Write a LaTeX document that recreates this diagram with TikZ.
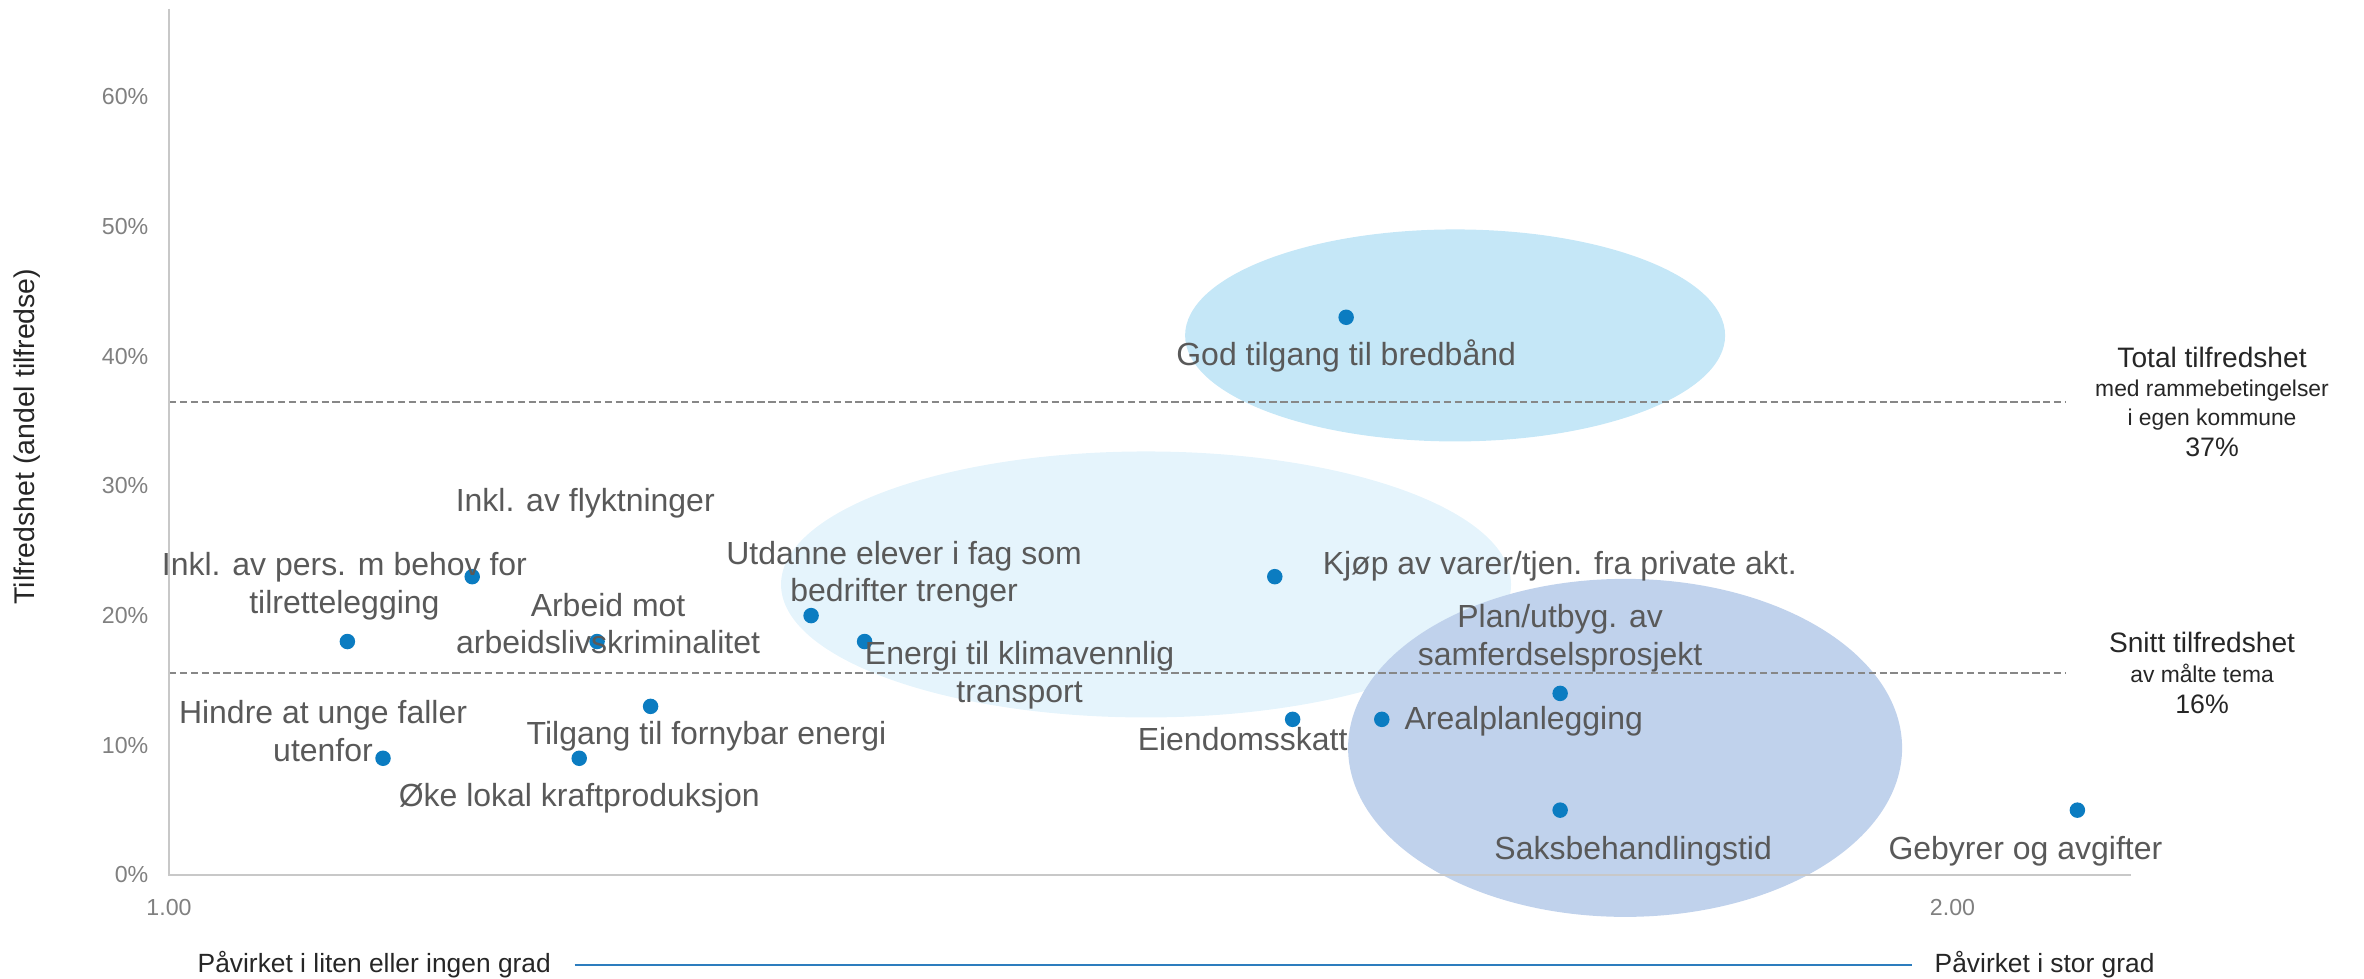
\documentclass[tikz,border=0pt]{standalone}
\usepackage{fontspec}
\setmainfont{Liberation Sans}
\usetikzlibrary{positioning}
\definecolor{dotblue}{RGB}{11,124,193}
\definecolor{cltop}{RGB}{197,231,247}
\definecolor{clmid}{RGB}{229,244,252}
\definecolor{clbot}{RGB}{192,210,236}
\definecolor{itemgray}{RGB}{89,89,89}
\definecolor{tickgray}{RGB}{128,128,128}
\definecolor{axisgray}{RGB}{200,200,200}
\definecolor{refgray}{RGB}{135,135,135}
\definecolor{darktext}{RGB}{38,38,38}
\definecolor{scaleblue}{RGB}{45,125,190}
\tikzset{
    point/.style={
    circle,fill=dotblue,inner sep=0pt,minimum size=1.55mm
    },
    item/.style={
    font=\fontsize{9.1}{10.7}\selectfont,text=itemgray,align=center,inner sep=0pt
    },
    ticklbl/.style={
    font=\fontsize{6.6}{7.8}\selectfont,text=tickgray,inner sep=0pt
    },
    axline/.style={
    draw=axisgray,line width=0.57pt
    },
    refline/.style={
    draw=refgray,line width=0.55pt,dash pattern=on 2.1pt off 1pt
    },
    axtitle/.style={
    font=\fontsize{7.5}{9}\selectfont,text=darktext,inner sep=0pt
    },
    sumhead/.style={
    font=\fontsize{8}{9.5}\selectfont,text=darktext,inner sep=0pt
    },
    sumsub/.style={
    font=\fontsize{6.5}{8}\selectfont,text=darktext,inner sep=0pt
    },
    sumval/.style={
    font=\fontsize{7.6}{9}\selectfont,text=darktext,inner sep=0pt
    },
}

\begin{document}
\begin{tikzpicture}[x=17.835cm, y=0.1297cm, node distance=1cm, on grid]
   \useasboundingbox (1,0) ++(-1.69cm,-1.04cm) rectangle ++(23.64cm,9.79cm);

   \fill[cltop] (1.7211,41.6) ellipse [x radius=2.70cm, y radius=1.06cm];
   \fill[clmid] (1.5478,22.4) ellipse [x radius=3.65cm, y radius=1.33cm];
   \fill[clbot] (1.8164,9.8) ellipse [x radius=2.77cm, y radius=1.69cm];

   \coordinate (O)    at (1,0);
   \coordinate (ytop) at (1,66.8);
   \coordinate (xend) at (2.10,0);
   \coordinate (totL) at (1,36.5);
   \coordinate (totR) at (2.0631,36.5);
   \coordinate (snL)  at (1,15.6);
   \coordinate (snR)  at (2.0631,15.6);

   \draw[refline] (totL) -- (totR);
   \draw[refline] (snL) -- (snR);
   \draw[axline] (ytop) -- (O) -- (xend);

   \foreach \p in {0,10,...,60}
     \node[ticklbl,anchor=east] (y\p) at ([xshift=-0.2cm]1,\p) {\p\%};
   \node[ticklbl] (x1) at ([yshift=-0.33cm]1,0) {1.00};
   \node[ticklbl] (x2) at ([yshift=-0.33cm]2,0) {2.00};

   \node[axtitle,font=\fontsize{8.1}{9.5}\selectfont,rotate=90] (ytit) at ([xshift=-1.42cm]1,33.8) {Tilfredshet (andel tilfredse)};
   \node[axtitle,anchor=west] (liten) at ([shift={(0.28cm,-0.90cm)}]O) {Påvirket i liten eller ingen grad};
   \node[axtitle,anchor=west] (stor)  at ([shift={(17.65cm,-0.90cm)}]O) {Påvirket i stor grad};
   \draw[scaleblue,line width=0.4pt,shorten <=0.23cm,shorten >=0.22cm] (liten) -- (stor);

   \node[sumhead] (tot)  at (2.1455,39.9) {Total tilfredshet};
   \node[sumsub]  (tot2) [below=0.33cm of tot]  {med rammebetingelser};
   \node[sumsub]  (tot3) [below=0.29cm of tot2] {i egen kommune};
   \node[sumval]  (tot4) [below=0.28cm of tot3] {37\%};
   \node[sumhead] (sn)   at (2.1399,17.9) {Snitt tilfredshet};
   \node[sumsub]  (sn2)  [below=0.31cm of sn]   {av målte tema};
   \node[sumval]  (sn3)  [below=0.30cm of sn2]  {16\%};

   \node[point] (bredb)  at (1.66,43) {};
   \node[point] (kjop)   at (1.62,23) {};
   \node[point] (utd)    at (1.36,20) {};
   \node[point] (energi) at (1.39,18) {};
   \node[point] (flykt)  at (1.17,23) {};
   \node[point] (pers)   at (1.10,18) {};
   \node[point] (krim)   at (1.24,18) {};
   \node[point] (fornyb) at (1.27,13) {};
   \node[point] (unge)   at (1.12,9) {};
   \node[point] (kraft)  at (1.23,9) {};
   \node[point] (eiend)  at (1.63,12) {};
   \node[point] (areal)  at (1.68,12) {};
   \node[point] (samf)   at (1.78,14) {};
   \node[point] (saks)   at (1.78,5) {};
   \node[point] (gebyr)  at (2.07,5) {};

   \node[item] (bredbL)  [below=0.39cm of bredb] {God tilgang til bredbånd};
   \node[item] (kjopL)   [above right=0.10cm and 2.85cm of kjop] {Kjøp av varer/tjen. fra private akt.};
   \node[item] (utdL)    [above right=0.41cm and 0.93cm of utd] {Utdanne elever i fag som\\bedrifter trenger};
   \node[item] (energiL) [below right=0.34cm and 1.55cm of energi] {Energi til klimavennlig\\transport};
   \node[item] (flyktL)  [above right=0.73cm and 1.13cm of flykt] {Inkl. av flyktninger};
   \node[item] (persL)   [above left=0.55cm and 0.03cm of pers] {Inkl. av pers. m behov for\\tilrettelegging};
   \node[item] (krimL)   [above right=0.18cm and 0.11cm of krim] {Arbeid mot\\arbeidslivskriminalitet};
   \node[item] (fornybL) [below right=0.30cm and 0.56cm of fornyb] {Tilgang til fornybar energi};
   \node[item] (ungeL)   [above left=0.27cm and 0.60cm of unge] {Hindre at unge faller\\utenfor};
   \node[item] (kraftL)  [below=0.40cm of kraft] {Øke lokal kraftproduksjon};
   \node[item] (eiendL)  [below left=0.20cm and 0.50cm of eiend] {Eiendomsskatt};
   \node[item] (arealL)  [below right=0.02cm and 1.42cm of areal] {Arealplanlegging};
   \node[item] (samfL)   [above=0.55cm of samf] {Plan/utbyg. av\\samferdselsprosjekt};
   \node[item] (saksL)   [below right=0.41cm and 0.73cm of saks] {Saksbehandlingstid};
   \node[item] (gebyrL)  [below left=0.41cm and 0.52cm of gebyr] {Gebyrer og avgifter};
\end{tikzpicture}
\end{document}
